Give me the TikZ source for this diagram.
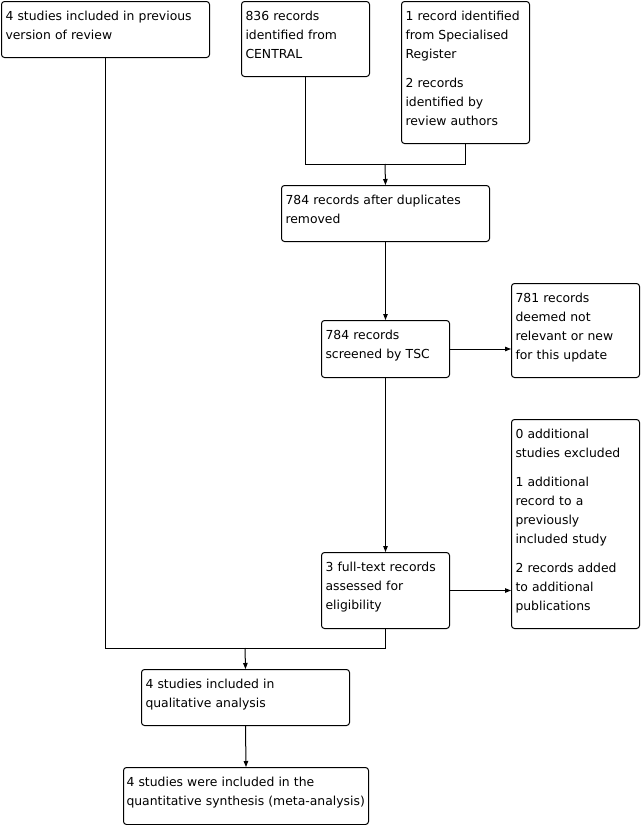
\documentclass[tikz,border=0pt]{standalone}
\usepackage{fontspec}
\setmainfont{DejaVu Sans}
\usetikzlibrary{arrows.meta}
\tikzset{
    >={Triangle[length=6pt,width=4.5pt]},
    record/.style={draw, rounded corners=3pt, anchor=north west, inner xsep=4pt, inner ysep=4pt,
        align=left, text height=15pt, font=\fontsize{12.4}{19}\selectfont}
}

\begin{document}
\begin{tikzpicture}[x=1pt, y=-1pt, line width=1pt]
    \useasboundingbox (0,0) rectangle (642,825);

    % sources
    \node[record, text width=200pt, text depth=33pt] (prev) at (1,1)
        {4 studies included in previous\\version of review};
    \node[record, text width=120pt, text depth=52pt] (central) at (241,1)
        {836 records\\identified from\\CENTRAL};
    \node[record, text width=120pt, text depth=119pt] (other) at (401,1)
        {1 record identified\\from Specialised\\Register\\[10pt]2 records\\identified by\\review authors};

    % screening
    \node[record, text width=200pt, text depth=33pt] (dedup) at (281,185)
        {784 records after duplicates\\removed};
    \node[record, text width=120pt, text depth=34pt] (screen) at (321,320)
        {784 records\\screened by TSC};
    \node[record, text width=120pt, text depth=71pt] (notrel) at (511,283)
        {781 records\\deemed not\\relevant or new\\for this update};
    \node[record, text width=120pt, text depth=53pt] (fulltext) at (321,552)
        {3 full-text records\\assessed for\\eligibility};
    \node[record, text width=120pt, text depth=186pt] (excl) at (511,419)
        {0 additional\\studies excluded\\[10pt]1 additional\\record to a\\previously\\included study\\[10pt]2 records added\\to additional\\publications};

    % included
    \node[record, text width=200pt, text depth=33pt] (qual) at (141,669)
        {4 studies included in\\qualitative analysis};
    \node[record, inner xsep=3pt, text width=239pt, text depth=34pt] (quant) at (123,767)
        {4 studies were included in the\\quantitative synthesis (meta-analysis)};

    \coordinate (join1) at (385,164);
    \coordinate (join2) at (245,648);

    \draw (central.south) |- (join1);
    \draw (other.south) |- (join1);
    \draw[->] (join1) -- (dedup.north);
    \draw[->] (dedup.south) -- (screen.north);
    \draw[->] (screen.east) -- (screen.east -| notrel.west);
    \draw[->] (screen.south) -- (fulltext.north);
    \draw[->] (fulltext.east) -- (fulltext.east -| excl.west);
    \draw (fulltext.south) |- (join2);
    \draw (prev.south) |- (join2);
    \draw[->] (join2) -- (qual.north);
    \draw[->] (qual.south) -- (quant.north);
\end{tikzpicture}
\end{document}
